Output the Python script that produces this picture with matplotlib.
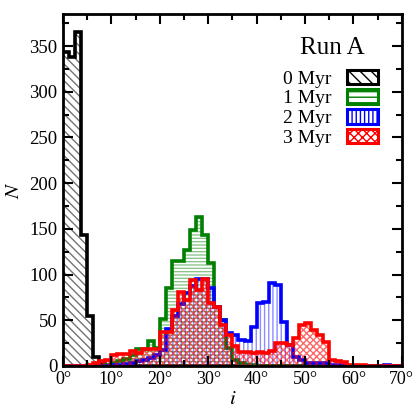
import matplotlib
matplotlib.use("Agg")
import matplotlib.pyplot as plt
import numpy as np
from matplotlib.patches import Patch
from matplotlib.ticker import MultipleLocator, FuncFormatter

plt.rcParams['font.family'] = ['Liberation Serif', 'DejaVu Serif']
plt.rcParams['mathtext.fontset'] = 'stix'
plt.rcParams['hatch.linewidth'] = 1.0

# inclination bins, 1.25 deg wide from 0 to 70
bin_width = 1.25
n_bins = 56

# counts per bin
run_0myr = [343, 338, 365, 143, 55, 10, 2] + [0] * 49
run_1myr = [0, 0, 0, 0, 0, 0, 0, 1, 3, 5, 8, 12, 18, 18, 27, 20,
            51, 85, 115, 115, 127, 149, 163, 143, 113, 65, 50, 20, 7, 3,
            1, 1] + [0] * 24
run_2myr = [0, 0, 0, 0, 0, 0, 0, 0, 1, 1, 2, 3, 5, 6, 9, 12,
            17, 40, 55, 68, 80, 87, 95, 95, 85, 65, 50, 36, 34, 28,
            27, 43, 69, 70, 91, 89, 48, 23, 10, 6, 3, 3, 3, 3, 1, 1,
            1, 0, 0, 0, 0, 0, 0, 1, 0, 0]
run_3myr = [0, 0, 0, 0, 1, 3, 5, 6, 12, 13, 13, 16, 14, 19, 19, 19,
            37, 37, 61, 81, 72, 94, 83, 95, 69, 65, 45, 34, 22, 15,
            15, 14, 15, 14, 16, 25, 25, 23, 30, 45, 47, 39, 34, 26, 7, 5,
            4, 1, 1, 1, 0, 0, 0, 0, 0, 0]

labels = ['0 Myr', '1 Myr', '2 Myr', '3 Myr']
colors = ['black', 'green', 'blue', 'red']
hatches = ['\\\\\\\\', '-----', '||||', 'xxxxx']
fill_alpha = [0.55, 0.45, 0.45, 0.6]
legend_hatches = ['\\\\\\', '---', '||||', 'xxxx']

edges = np.arange(n_bins + 1) * bin_width

fig = plt.figure(figsize=(4.13, 4.13), dpi=100)
ax = fig.add_axes([0.1525, 0.114, 0.8205, 0.852])

series = [run_0myr, run_1myr, run_2myr, run_3myr]
for vals, c, h, a in zip(series, colors, hatches, fill_alpha):
    vals = np.array(vals, dtype=float)
    rgba = matplotlib.colors.to_rgba(c, a)
    ax.stairs(vals, edges, fill=True, facecolor='none', edgecolor=rgba,
              hatch=h, linewidth=0)
    ax.stairs(vals, edges, color=c, linewidth=2.6, baseline=None)

ax.set_xlim(0, 70)
ax.set_ylim(0, 385)

ax.xaxis.set_major_locator(MultipleLocator(10))
ax.xaxis.set_minor_locator(MultipleLocator(5))
ax.yaxis.set_major_locator(MultipleLocator(50))
ax.yaxis.set_minor_locator(MultipleLocator(25))
ax.xaxis.set_major_formatter(FuncFormatter(lambda v, p: f"{int(v)}°"))

ax.tick_params(which='both', direction='in', top=True, right=True,
               labelsize=13.5, width=1.5, pad=4)
ax.tick_params(axis='x', labelsize=13)
ax.tick_params(which='major', length=7)
ax.tick_params(which='minor', length=4)
for sp in ax.spines.values():
    sp.set_linewidth(2)

ax.set_xlabel('$i$', fontsize=15, labelpad=1)
ax.set_ylabel('$N$', fontsize=15, labelpad=4)

ax.text(0.794, 0.903, 'Run A', transform=ax.transAxes, fontsize=18,
        ha='center', va='center')

handles = []
for c, h in zip(colors, legend_hatches):
    p = Patch(facecolor='white', edgecolor=c, hatch=h, linewidth=2.2)
    if hasattr(p, 'set_hatch_linewidth'):
        p.set_hatch_linewidth(2.2)
    handles.append(p)

leg = ax.legend(handles, labels, loc='upper right', bbox_to_anchor=(0.93, 0.842),
                frameon=False, markerfirst=False, fontsize=14,
                borderaxespad=0, borderpad=0, handlelength=1.6,
                handleheight=0.75, handletextpad=0.8, labelspacing=0.1)

fig.savefig('out.png', dpi=100)
